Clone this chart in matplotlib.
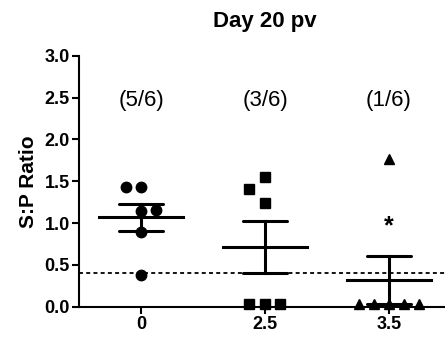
import numpy as np
import matplotlib.pyplot as plt

plt.rcParams['font.family'] = ['Liberation Sans', 'DejaVu Sans']

# --- data ---
groups = ['0', '2.5', '3.5']
values_0 = [1.43, 1.43, 1.14, 1.16, 0.89, 0.38]
values_25 = [1.55, 1.41, 1.24, 0.03, 0.03, 0.03]
values_35 = [1.77, 0.03, 0.03, 0.03, 0.03, 0.03]
offsets_0 = [-0.12, 0.0, 0.0, 0.12, 0.0, 0.0]
offsets_25 = [0.0, -0.13, 0.0, -0.13, 0.0, 0.12]
offsets_35 = [0.0, -0.24, -0.12, 0.0, 0.12, 0.24]
positive_labels = ['(5/6)', '(3/6)', '(1/6)']
cutoff = 0.4
star_y = 1.04

all_values = [values_0, values_25, values_35]
all_offsets = [offsets_0, offsets_25, offsets_35]
markers = ['o', 's', '^']

fig = plt.figure(figsize=(4.45, 3.41), dpi=100)
ax = fig.add_axes([79 / 445, 34.3 / 341, 372 / 445, 251 / 341])

for i, (vals, offs, m) in enumerate(zip(all_values, all_offsets, markers)):
    vals = np.array(vals)
    xs = i + np.array(offs)
    ax.plot(xs, vals, linestyle='none', marker=m, color='black', markersize=7.5,
            clip_on=False, zorder=3)
    mean = vals.mean()
    sem = vals.std(ddof=1) / np.sqrt(len(vals))
    ax.plot([i - 0.34, i + 0.34], [mean, mean], color='black', lw=2.2, zorder=4)
    ax.plot([i, i], [mean - sem, mean + sem], color='black', lw=2.2, zorder=4)
    for yy in (mean - sem, mean + sem):
        ax.plot([i - 0.18, i + 0.18], [yy, yy], color='black', lw=2.2,
                solid_capstyle='round', zorder=4)
    ax.text(i, 2.47, positive_labels[i], ha='center', va='center', fontsize=16)

# significance mark, baseline shifted so the glyph centre sits at star_y
ax.text(2, star_y - 0.16, '*', ha='center', va='baseline', fontsize=18, fontweight='bold')
ax.axhline(cutoff, color='black', lw=1.3, linestyle=(0, (2.2, 1.8)), zorder=2)

ax.set_xlim(-0.5, 2.5)
ax.set_ylim(0, 3.0)
ax.set_xticks(range(len(groups)))
ax.set_xticklabels(groups)
ax.set_yticks(np.arange(0, 3.01, 0.5))
ax.set_yticklabels([f'{v:.1f}' for v in np.arange(0, 3.01, 0.5)])
for lbl in ax.get_xticklabels() + ax.get_yticklabels():
    lbl.set_fontweight('bold')
    lbl.set_fontsize(13)
ax.tick_params(width=1.5, length=5, pad=1.5)
ax.spines['top'].set_visible(False)
ax.spines['right'].set_visible(False)
ax.spines['left'].set_linewidth(1.5)
ax.spines['bottom'].set_linewidth(1.5)
ax.set_ylabel('S:P Ratio', fontsize=15, fontweight='bold', labelpad=5)
ax.set_title('Day 20 pv', fontsize=16, fontweight='bold', pad=21)

fig.savefig('out.png', dpi=100)
